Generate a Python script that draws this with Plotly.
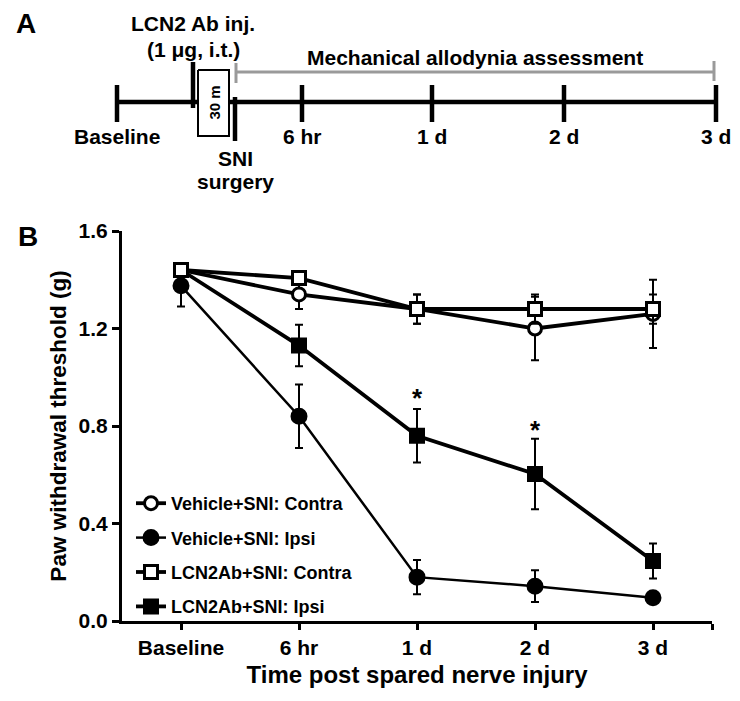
import plotly.graph_objects as go

# ---------------- Panel B data ----------------
time_labels = ["Baseline", "6 hr", "1 d", "2 d", "3 d"]
time_idx = [0, 1, 2, 3, 4]

veh_contra = [1.44, 1.34, 1.28, 1.20, 1.26]
veh_contra_err = [0.02, 0.06, 0.06, 0.13, 0.14]
veh_ipsi = [1.375, 0.84, 0.18, 0.143, 0.095]
veh_ipsi_err = [0.085, 0.13, 0.07, 0.065, 0.0]
ab_contra = [1.44, 1.407, 1.28, 1.28, 1.28]
ab_contra_err = [0.02, 0.02, 0.06, 0.06, 0.06]
ab_ipsi = [1.44, 1.13, 0.76, 0.603, 0.246]
ab_ipsi_err = [0.02, 0.085, 0.11, 0.145, 0.072]

sig_idx = [2, 3]
sig_y = [0.915, 0.785]

y_ticks = [0.0, 0.4, 0.8, 1.2, 1.6]
y_tick_text = ["0.0", "0.4", "0.8", "1.2", "1.6"]

# ---------------- Panel A (schematic timeline) ----------------
timeline_labels = ["Baseline", "6 hr", "1 d", "2 d", "3 d"]
timeline_pos = [117, 302, 432, 564, 716]
inj_pos = 193
sni_pos = 235
assess_start = 236
assess_end = 714

FONT = "Liberation Sans, Arial, sans-serif"
W, H = 740, 701

fig = go.Figure()

# ---- panel A traces (on hidden overlay axes) ----
def seg(x0, y0, x1, y1, color="black", width=4.5):
    fig.add_trace(go.Scatter(x=[x0, x1], y=[y0, y1], mode="lines",
                             line=dict(color=color, width=width),
                             xaxis="x2", yaxis="y2", showlegend=False,
                             hoverinfo="skip"))

seg(timeline_pos[0], 102, timeline_pos[-1], 102)
for p in timeline_pos:
    seg(p, 85, p, 122)
seg(inj_pos, 62, inj_pos, 108)
seg(sni_pos, 97, sni_pos, 141)
seg(assess_start, 72, assess_end, 72, color="#9a9a9a", width=3)
seg(assess_start, 63, assess_start, 83, color="#9a9a9a", width=3)
seg(assess_end, 61, assess_end, 81, color="#9a9a9a", width=3)
# 30 min box
fig.add_trace(go.Scatter(x=[198, 229, 229, 198, 198], y=[70, 70, 136, 136, 70],
                         mode="lines", fill="toself", fillcolor="white",
                         line=dict(color="black", width=2),
                         xaxis="x2", yaxis="y2", showlegend=False, hoverinfo="skip"))

# ---- panel B traces ----
def series(name, y, err, symbol, fill, lw, rank, size=13):
    fig.add_trace(go.Scatter(
        x=time_idx, y=y, name=name, mode="lines+markers",
        line=dict(color="black", width=lw),
        marker=dict(symbol=symbol, size=size, color=fill,
                    line=dict(color="black", width=3)),
        error_y=dict(type="data", array=err, visible=True, color="black",
                     thickness=2, width=4),
        legendgroup=name, legendrank=rank,
    ))

series("Vehicle+SNI: Ipsi", veh_ipsi, veh_ipsi_err, "circle", "black", 2.5, 2, 14)
series("LCN2Ab+SNI: Ipsi", ab_ipsi, ab_ipsi_err, "square", "black", 3.8, 4, 13)
series("Vehicle+SNI: Contra", veh_contra, veh_contra_err, "circle", "white", 3.8, 1, 13)
series("LCN2Ab+SNI: Contra", ab_contra, ab_contra_err, "square", "white", 3.8, 3, 13)

annotations = []
for i, yv in zip(sig_idx, sig_y):
    annotations.append(dict(x=i, y=yv, xref="x", yref="y", text="*", showarrow=False,
                            font=dict(family=FONT, size=26, color="black", weight="bold")))

def lab(x, y, text, size=21):
    annotations.append(dict(x=x, y=y, xref="x2", yref="y2", text=text, showarrow=False,
                            xanchor="center", yanchor="middle",
                            font=dict(family=FONT, size=size, color="black", weight="bold")))

for p, t in zip(timeline_pos, timeline_labels):
    lab(p, 136, t)
lab(sni_pos, 158, "SNI")
lab(sni_pos, 181, "surgery")
lab(inj_pos, 23, "LCN2 Ab inj.")
lab(inj_pos, 49, "(1 μg, i.t.)")
lab(475, 57, "Mechanical allodynia assessment")
lab(26, 23, "A", 28)
lab(28, 236, "B", 28)
annotations.append(dict(x=213.5, y=103, xref="x2", yref="y2", text="30 m", showarrow=False,
                        textangle=-90,
                        font=dict(family=FONT, size=15, color="black", weight="bold")))

fig.update_layout(
    width=W, height=H,
    margin=dict(l=0, r=0, t=0, b=0, autoexpand=False),
    paper_bgcolor="white", plot_bgcolor="rgba(0,0,0,0)",
    font=dict(family=FONT, size=20, color="black", weight="bold"),
    xaxis=dict(domain=[122 / W, 712 / W], range=[-0.5, 4.5],
               tickvals=time_idx + [4.5], ticktext=time_labels + [""],
               ticks="outside", ticklen=6, tickwidth=3, tickcolor="black",
               showline=True, linewidth=3, linecolor="black",
               showgrid=False, zeroline=False,
               tickfont=dict(size=21, weight="bold"),
               title=dict(text="Time post spared nerve injury", standoff=8,
                          font=dict(size=24, weight="bold"))),
    yaxis=dict(domain=[(H - 621) / H, (H - 231) / H], range=[0, 1.6],
               tickvals=y_ticks, ticktext=y_tick_text,
               ticks="outside", ticklen=7, tickwidth=3, tickcolor="black",
               showline=True, linewidth=3, linecolor="black",
               showgrid=False, zeroline=False,
               tickfont=dict(size=21, weight="bold"),
               title=dict(text="Paw withdrawal threshold (g)", standoff=6,
                          font=dict(size=22.5, weight="bold"))),
    xaxis2=dict(domain=[0, 1], range=[0, W], visible=False, anchor="y2", fixedrange=True),
    yaxis2=dict(domain=[0, 1], range=[H, 0], visible=False, anchor="x2", fixedrange=True),
    legend=dict(x=131 / W, y=(H - 485) / H, xanchor="left", yanchor="top",
                bgcolor="rgba(0,0,0,0)", tracegroupgap=8,
                font=dict(size=18, weight="bold")),
    annotations=annotations,
    showlegend=True,
)

fig.write_html("out.html",
               config={"displayModeBar": False},
               post_script="document.body.style.margin='0';document.body.style.overflow='hidden';")
